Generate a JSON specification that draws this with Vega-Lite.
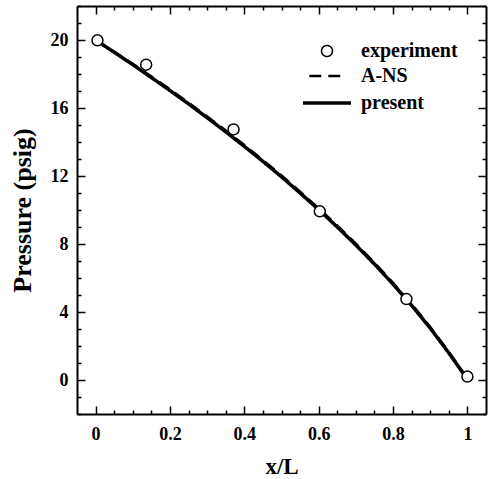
{
  "$schema": "https://vega.github.io/schema/vega-lite/v6.json",
  "width": 409,
  "height": 408,
  "autosize": {"type": "none"},
  "padding": {"left": 77, "top": 6, "right": 2, "bottom": 65},
  "background": "white",
  "config": {
    "view": {"stroke": null},
    "font": "Liberation Serif",
    "axis": {
      "domainColor": "black", "domainWidth": 2,
      "tickColor": "black", "tickWidth": 1.5,
      "labelFont": "Liberation Serif", "labelFontWeight": "bold", "labelFontSize": 18, "labelColor": "black",
      "titleFont": "Liberation Serif", "titleFontWeight": "bold", "titleFontSize": 23, "titleColor": "black",
      "grid": false, "labelOverlap": false, "labelFlush": false, "labelBound": false
    },
    "legend": {
      "labelFont": "Liberation Serif", "labelFontWeight": "bold", "labelFontSize": 20, "labelColor": "black"
    }
  },
  "datasets": {
    "curves": [
      {"x": 0.0, "p": 20.0, "series": "present"},
      {"x": 0.05, "p": 19.28, "series": "present"},
      {"x": 0.1, "p": 18.55, "series": "present"},
      {"x": 0.15, "p": 17.79, "series": "present"},
      {"x": 0.2, "p": 17.03, "series": "present"},
      {"x": 0.25, "p": 16.24, "series": "present"},
      {"x": 0.3, "p": 15.43, "series": "present"},
      {"x": 0.35, "p": 14.6, "series": "present"},
      {"x": 0.4, "p": 13.74, "series": "present"},
      {"x": 0.45, "p": 12.86, "series": "present"},
      {"x": 0.5, "p": 11.95, "series": "present"},
      {"x": 0.55, "p": 11.0, "series": "present"},
      {"x": 0.6, "p": 10.02, "series": "present"},
      {"x": 0.65, "p": 9.0, "series": "present"},
      {"x": 0.7, "p": 7.94, "series": "present"},
      {"x": 0.75, "p": 6.82, "series": "present"},
      {"x": 0.8, "p": 5.64, "series": "present"},
      {"x": 0.85, "p": 4.39, "series": "present"},
      {"x": 0.9, "p": 3.05, "series": "present"},
      {"x": 0.95, "p": 1.59, "series": "present"},
      {"x": 0.99, "p": 0.35, "series": "present"},
      {"x": 0.0, "p": 20.0, "series": "A-NS"},
      {"x": 0.05, "p": 19.31, "series": "A-NS"},
      {"x": 0.1, "p": 18.6, "series": "A-NS"},
      {"x": 0.15, "p": 17.85, "series": "A-NS"},
      {"x": 0.2, "p": 17.1, "series": "A-NS"},
      {"x": 0.25, "p": 16.31, "series": "A-NS"},
      {"x": 0.3, "p": 15.5, "series": "A-NS"},
      {"x": 0.35, "p": 14.68, "series": "A-NS"},
      {"x": 0.4, "p": 13.82, "series": "A-NS"},
      {"x": 0.45, "p": 12.94, "series": "A-NS"},
      {"x": 0.5, "p": 12.03, "series": "A-NS"},
      {"x": 0.55, "p": 11.08, "series": "A-NS"},
      {"x": 0.6, "p": 10.1, "series": "A-NS"},
      {"x": 0.65, "p": 9.08, "series": "A-NS"},
      {"x": 0.7, "p": 8.02, "series": "A-NS"},
      {"x": 0.75, "p": 6.9, "series": "A-NS"},
      {"x": 0.8, "p": 5.72, "series": "A-NS"},
      {"x": 0.85, "p": 4.47, "series": "A-NS"},
      {"x": 0.9, "p": 3.12, "series": "A-NS"},
      {"x": 0.95, "p": 1.65, "series": "A-NS"},
      {"x": 0.99, "p": 0.4, "series": "A-NS"}
    ],
    "exp": [
      {"x": 0.005, "p": 19.98, "series": "experiment"},
      {"x": 0.136, "p": 18.55, "series": "experiment"},
      {"x": 0.371, "p": 14.74, "series": "experiment"},
      {"x": 0.603, "p": 9.92, "series": "experiment"},
      {"x": 0.836, "p": 4.76, "series": "experiment"},
      {"x": 1.0, "p": 0.2, "series": "experiment"}
    ]
  },
  "layer": [
    {
      "data": {"name": "curves"},
      "mark": {"type": "line", "color": "black", "strokeCap": "butt"},
      "encoding": {
        "x": {
          "field": "x", "type": "quantitative",
          "scale": {"domain": [-0.05, 1.05], "nice": false, "zero": false},
          "axis": {
            "orient": "bottom", "title": "x/L",
            "values": [0, 0.05, 0.1, 0.15, 0.2, 0.25, 0.3, 0.35, 0.4, 0.45, 0.5, 0.55, 0.6, 0.65, 0.7, 0.75, 0.8, 0.85, 0.9, 0.95, 1],
            "format": "~g",
            "labelExpr": "round(datum.value*100) % 20 === 0 ? datum.label : ''",
            "tickSize": {"condition": {"test": "round(datum.value*100) % 20 === 0", "value": -8}, "value": -4},
            "labelPadding": 19,
            "titlePadding": 8
          }
        },
        "y": {
          "field": "p", "type": "quantitative",
          "scale": {"domain": [-2, 22], "nice": false, "zero": false},
          "axis": {
            "orient": "left", "title": "Pressure (psig)",
            "titleFontSize": 26,
            "values": [-2, -1, 0, 1, 2, 3, 4, 5, 6, 7, 8, 9, 10, 11, 12, 13, 14, 15, 16, 17, 18, 19, 20, 21, 22],
            "labelExpr": "datum.value % 4 === 0 ? datum.label : ''",
            "tickSize": {"condition": {"test": "datum.value % 4 === 0", "value": -8}, "value": -4},
            "labelPadding": 17,
            "titlePadding": 15
          }
        },
        "strokeDash": {
          "field": "series", "type": "ordinal",
          "scale": {"domain": ["experiment", "A-NS", "present"], "range": [[1, 0], [12, 7], [1, 0]]},
          "legend": {"title": null, "orient": "none", "legendX": 236, "legendY": 35, "labelOffset": 20, "gridAlign": "all", "rowPadding": 0}
        },
        "strokeWidth": {
          "field": "series", "type": "ordinal",
          "scale": {"domain": ["experiment", "A-NS", "present"], "range": [1.5, 3.5]},
          "legend": {"title": null, "orient": "none", "legendX": 236, "legendY": 35, "labelOffset": 20, "gridAlign": "all", "rowPadding": 0}
        }
      }
    },
    {
      "data": {"name": "exp"},
      "mark": {"type": "point", "filled": true, "fill": "white", "stroke": "black", "strokeWidth": 1.5, "opacity": 1},
      "encoding": {
        "x": {
          "field": "x", "type": "quantitative",
          "scale": {"domain": [-0.05, 1.05], "nice": false, "zero": false},
          "axis": {
            "orient": "top", "title": null, "labels": false,
            "values": [0, 0.05, 0.1, 0.15, 0.2, 0.25, 0.3, 0.35, 0.4, 0.45, 0.5, 0.55, 0.6, 0.65, 0.7, 0.75, 0.8, 0.85, 0.9, 0.95, 1],
            "tickSize": {"condition": {"test": "round(datum.value*100) % 20 === 0", "value": -8}, "value": -4}
          }
        },
        "y": {
          "field": "p", "type": "quantitative",
          "scale": {"domain": [-2, 22], "nice": false, "zero": false},
          "axis": {
            "orient": "right", "title": null, "labels": false,
            "values": [-2, -1, 0, 1, 2, 3, 4, 5, 6, 7, 8, 9, 10, 11, 12, 13, 14, 15, 16, 17, 18, 19, 20, 21, 22],
            "tickSize": {"condition": {"test": "datum.value % 4 === 0", "value": -8}, "value": -4}
          }
        },
        "shape": {
          "field": "series", "type": "ordinal",
          "scale": {"domain": ["experiment", "A-NS", "present"], "range": ["circle", "M-1.9,0H1.9", "M-2,0H2"]},
          "legend": {"title": null, "orient": "none", "legendX": 236, "legendY": 35, "labelOffset": 20, "gridAlign": "all", "rowPadding": 0}
        },
        "size": {
          "field": "series", "type": "ordinal",
          "scale": {"domain": ["experiment", "A-NS", "present"], "range": [121, 576]},
          "legend": {"title": null, "orient": "none", "legendX": 236, "legendY": 35, "labelOffset": 20, "gridAlign": "all", "rowPadding": 0}
        }
      }
    }
  ],
  "resolve": {"axis": {"x": "independent", "y": "independent"}}
}
